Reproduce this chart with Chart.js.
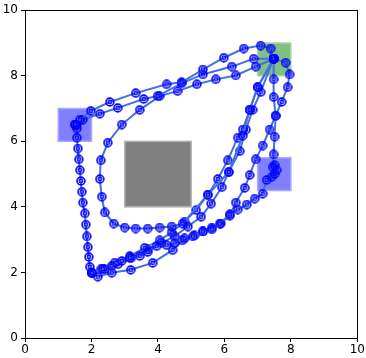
<!DOCTYPE html>
<html>
<head>
<meta charset="utf-8">
<script src="https://cdn.jsdelivr.net/npm/chart.js@4"></script>
<style>
    html, body { margin: 0; padding: 0; background: #fff; }
    #wrap { width: 366px; height: 358px; }
</style>
</head>
<body>
<div id="wrap"><canvas id="pathChart"></canvas></div>
<script>
// trajectory pieces
const topOuterX = [7.48, 7.39, 7.09, 6.58, 5.98, 5.35, 4.71, 4.26, 3.33, 2.55, 1.98, 1.65, 1.50];
const topOuterY = [8.52, 8.83, 8.92, 8.83, 8.55, 8.19, 7.80, 7.74, 7.47, 7.20, 6.93, 6.66, 6.51];

const topMiddleX = [7.48, 6.88, 6.22, 5.35, 4.71, 3.99, 3.57, 2.79, 2.25, 1.74, 1.56];
const topMiddleY = [8.52, 8.52, 8.28, 8.04, 7.77, 7.38, 7.29, 7.02, 6.84, 6.66, 6.50];

const leftRunX = [1.50, 1.56, 1.56, 1.59, 1.62, 1.65, 1.68, 1.71, 1.74, 1.80, 1.83, 1.86, 1.89, 1.92, 1.95, 2.01,
    2.34, 2.61, 2.91, 3.15, 3.45, 3.69, 3.96, 4.26, 4.50, 4.80, 5.05, 5.35, 5.62, 5.86, 6.16, 6.40, 6.67, 6.91, 7.15,
    7.27, 7.42, 7.51, 7.57, 7.51, 7.45, 7.48, 7.51, 7.54, 7.48, 7.48, 7.48];
const leftRunY = [6.51, 6.39, 6.11, 5.78, 5.45, 5.12, 4.79, 4.46, 4.13, 3.80, 3.46, 3.10, 2.77, 2.47, 2.17, 1.99,
    2.11, 2.20, 2.35, 2.44, 2.50, 2.62, 2.80, 2.83, 2.89, 3.04, 3.10, 3.25, 3.31, 3.49, 3.77, 3.92, 4.07, 4.25, 4.40,
    4.82, 4.91, 5.00, 5.12, 5.27, 5.21, 5.60, 6.14, 6.78, 7.35, 7.89, 8.52];

const innerLoopX = [7.48, 6.94, 6.34, 5.74, 5.17, 4.59, 4.05, 3.45, 2.91, 2.49, 2.28, 2.25, 2.31, 2.40, 2.67, 3.00,
    3.33, 3.69, 4.05, 4.41, 4.74, 5.50, 6.13, 6.55, 6.76, 7.00, 7.48];
const innerLoopY = [8.52, 8.28, 8.01, 7.89, 7.74, 7.53, 7.38, 6.96, 6.51, 5.96, 5.42, 4.85, 4.31, 3.83, 3.49, 3.37,
    3.34, 3.34, 3.37, 3.40, 3.49, 4.37, 5.06, 6.17, 6.96, 7.65, 8.52];

const diagAX = [7.48, 7.00, 6.76, 6.55, 6.40, 6.10, 5.80, 5.50, 5.15, 4.80, 4.41, 4.05, 3.60, 3.15, 2.70, 2.30, 2.01];
const diagAY = [8.52, 7.65, 6.96, 6.36, 6.11, 5.42, 4.85, 4.37, 3.90, 3.55, 3.22, 2.98, 2.75, 2.50, 2.30, 2.12, 1.99];

const diagBX = [7.48, 7.09, 6.85, 6.65, 6.46, 6.13, 5.92, 5.60, 5.30, 4.90, 4.50, 4.10, 3.70, 3.20, 2.80, 2.40, 2.01];
const diagBY = [8.52, 7.50, 6.96, 6.36, 5.70, 5.06, 4.60, 4.10, 3.70, 3.40, 3.10, 2.90, 2.70, 2.45, 2.25, 2.10, 1.99];

const outerRightX = [7.48, 7.84, 7.96, 7.90, 7.72, 7.54, 7.36, 7.15, 6.94, 6.76, 6.61, 6.34, 6.16, 5.89, 5.62, 5.35,
    5.10, 4.74, 4.44, 3.84, 3.18, 2.61, 2.19, 2.01];
const outerRightY = [8.52, 8.40, 8.04, 7.65, 7.20, 6.78, 6.36, 5.87, 5.45, 4.97, 4.58, 4.13, 3.73, 3.49, 3.37, 3.25,
    3.13, 2.98, 2.68, 2.29, 2.08, 1.99, 1.87, 1.99];

// regions: [x0, x1, y0, y1]
const startRegion = [1, 2, 6, 7];
const goalRegion = [7, 8, 8, 9];
const otherRegion = [7, 8, 4.5, 5.5];
const obstacle = [3, 5, 4, 6];

const tickValues = [0, 2, 4, 6, 8, 10];

const pieces = [
    [topOuterX, topOuterY],
    [topMiddleX, topMiddleY],
    [leftRunX, leftRunY],
    [innerLoopX, innerLoopY],
    [diagAX, diagAY],
    [diagBX, diagBY],
    [outerRightX, outerRightY]
];

// double ring marker
const marker = document.createElement('canvas');
marker.width = 10;
marker.height = 10;
const mctx = marker.getContext('2d');
mctx.strokeStyle = '#0000ff';
mctx.lineWidth = 1.6;
mctx.beginPath();
mctx.arc(5, 5, 3.9, 0, Math.PI * 2);
mctx.stroke();
mctx.lineWidth = 1.2;
mctx.beginPath();
mctx.arc(5, 5, 1.8, 0, Math.PI * 2);
mctx.stroke();

const regionPlugin = {
    id: 'regions',
    beforeDatasetsDraw(chart) {
        const { ctx, scales: { x, y } } = chart;
        const boxes = [
            [startRegion, '#8080ff', '#a8a8ff'],
            [goalRegion, '#80c080', '#a8d8a8'],
            [otherRegion, '#8080ff', '#a8a8ff'],
            [obstacle, '#808080', '#b4b4b4']
        ];
        ctx.save();
        boxes.forEach(([r, fill, edge]) => {
            const px0 = x.getPixelForValue(r[0]);
            const px1 = x.getPixelForValue(r[1]);
            const py0 = y.getPixelForValue(r[3]);
            const py1 = y.getPixelForValue(r[2]);
            ctx.fillStyle = fill;
            ctx.fillRect(px0, py0, px1 - px0, py1 - py0);
            ctx.strokeStyle = edge;
            ctx.lineWidth = 1.5;
            ctx.strokeRect(px0, py0, px1 - px0, py1 - py0);
        });
        ctx.restore();
    },
    afterDraw(chart) {
        const { ctx, chartArea: a } = chart;
        ctx.save();
        ctx.strokeStyle = '#000';
        ctx.lineWidth = 1;
        ctx.strokeRect(Math.round(a.left) + 0.5, Math.round(a.top) + 0.5,
            Math.round(a.right - a.left), Math.round(a.bottom - a.top));
        ctx.restore();
    }
};

const axisStyle = (horizontal) => ({
    type: 'linear',
    min: 0,
    max: 10,
    afterBuildTicks: axis => { axis.ticks = tickValues.map(v => ({ value: v })); },
    afterFit: axis => {
        if (horizontal) axis.height = 20;
        else axis.width = 25;
    },
    ticks: {
        color: '#000',
        font: { family: 'DejaVu Sans', size: 12 },
        padding: horizontal ? 1 : 3,
        maxRotation: 0
    },
    grid: {
        display: true,
        drawOnChartArea: false,
        drawTicks: true,
        tickLength: 4,
        color: '#000'
    },
    border: { display: true, color: '#000', width: 1 }
});

new Chart(document.getElementById('pathChart'), {
    type: 'scatter',
    data: {
        datasets: pieces.map(([xs, ys]) => ({
            data: xs.map((v, i) => ({ x: v, y: ys[i] })),
            showLine: true,
            borderColor: '#4570e0',
            borderWidth: 2,
            pointStyle: marker,
            pointRadius: 4,
            tension: 0
        }))
    },
    options: {
        responsive: true,
        maintainAspectRatio: false,
        animation: false,
        layout: { padding: { top: 6, right: 8, left: 0, bottom: 0 } },
        plugins: {
            legend: { display: false },
            tooltip: { enabled: false }
        },
        scales: {
            x: axisStyle(true),
            y: axisStyle(false)
        }
    },
    plugins: [regionPlugin]
});
</script>
</body>
</html>
